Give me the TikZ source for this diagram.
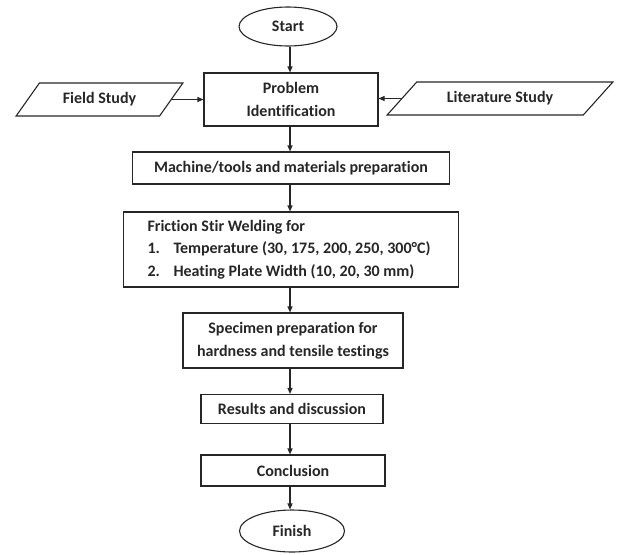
\documentclass[tikz,border=0pt]{standalone}
\usepackage{fontspec}
\setmainfont{Carlito}[Ligatures=NoCommon]
\usetikzlibrary{shapes.geometric,arrows.meta}
\definecolor{ink}{HTML}{262626}

\begin{document}
\begin{tikzpicture}[x=1pt, y=-1pt, line width=1.1pt, line join=miter,
  box/.style={draw=ink, rectangle, inner sep=0pt, align=center, text=ink,
              font=\fontsize{16}{22.5}\selectfont\bfseries},
  term/.style={box, ellipse},
  io/.style={box, trapezium, trapezium stretches=true},
  arr/.style={draw=ink, line width=1.1pt, -{Triangle[length=6pt,width=5pt]}}]

  %% ════ 主流程节点 ════
  \coordinate (axis) at (290,0);
  \node[term, minimum width=98pt, minimum height=39pt] (start) at (288,26.5) {Start};
  \node[box, minimum width=174pt, minimum height=53pt] (problem) at (291,99.5) {Problem\\Identification};
  \node[box, minimum width=317pt, minimum height=32pt] (prep) at (291,168) {Machine/tools and materials preparation};
  \node[box, align=left, text width=287pt, inner xsep=24pt, minimum height=75pt] (fsw) at (291,249.5)
    {\spaceskip=0pt Friction Stir Welding for\\
     \makebox[26pt][l]{1.}Temperature (30, 175, 200, 250, 300°C)\\
     \makebox[26pt][l]{2.}Heating Plate Width (10, 20, 30 mm)};
  \node[box, minimum width=220pt, minimum height=55pt] (spec) at (293,340.5) {Specimen preparation for\\hardness and tensile testings};
  \node[box, minimum width=182pt, minimum height=29pt] (result) at (292,409) {Results and discussion};
  \node[box, minimum width=184pt, minimum height=31pt] (concl) at (293,470.5) {Conclusion};
  \node[term, minimum width=105pt, minimum height=42pt] (finish) at (292,531) {Finish};

  %% ════ 两侧输入（平行四边形）════
  \node[io, trapezium left angle=44, trapezium right angle=136, minimum width=167pt, minimum height=33pt] (field) at (99.5,99.5) {Field Study};
  \node[io, trapezium left angle=36, trapezium right angle=144, minimum width=226pt, minimum height=33pt] (lit) at (500,98.5) {Literature Study};

  %% ════ 连线 ════
  \draw[arr] (start.south -| axis) -- (problem.north -| axis);
  \draw[arr] (problem.south -| axis) -- (prep.north -| axis);
  \draw[arr] (prep.south -| axis) -- (fsw.north -| axis);
  \draw[arr] (fsw.south -| axis) -- (spec.north -| axis);
  \draw[arr] (spec.south -| axis) -- (result.north -| axis);
  \draw[arr] (result.south -| axis) -- (concl.north -| axis);
  \draw[arr] (concl.south -| axis) -- (finish.north -| axis);
  \draw[arr] (field.east) -- (problem.west |- field.east);
  \draw[arr] (lit.west) -- (problem.east |- lit.west);

  % 钉死画布
  \pgfresetboundingbox
  \path[use as bounding box] (0,0) rectangle (617,554);
\end{tikzpicture}
\end{document}
